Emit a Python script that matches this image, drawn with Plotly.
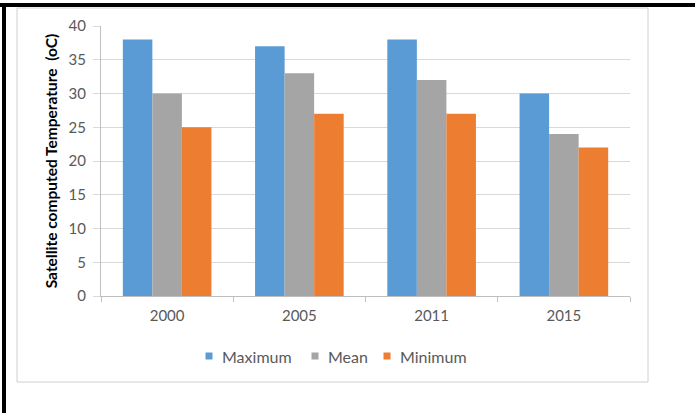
import plotly.graph_objects as go

years = ["2000", "2005", "2011", "2015"]
maximum = [38, 37, 38, 30]
mean = [30, 33, 32, 24]
minimum = [25, 27, 27, 22]
series_names = ["Maximum", "Mean", "Minimum"]
colors = ["#5B9BD5", "#A5A5A5", "#ED7D31"]
y_ticks = [0, 5, 10, 15, 20, 25, 30, 35, 40]

W, H = 695, 413
L, R, T, B = 101, 65, 26, 117
pw, ph = W - L - R, H - T - B

def px_x(p):
    return (p - L) / pw

def px_y(p):
    return (H - B - p) / ph

fig = go.Figure()
for name, vals, col in zip(series_names, [maximum, mean, minimum], colors):
    fig.add_trace(go.Bar(x=years, y=vals, name=name, marker=dict(color=col, line=dict(width=0)),
                         showlegend=False))

font = "Lato, 'Open Sans', sans-serif"
fig.update_layout(
    width=W, height=H,
    margin=dict(l=L, r=R, t=T, b=B, autoexpand=False),
    paper_bgcolor="white", plot_bgcolor="white",
    barmode="group", bargap=0.33, bargroupgap=0,
    font=dict(family=font, color="#595959", size=15),
    showlegend=False,
    xaxis=dict(showline=True, linecolor="#BFBFBF", linewidth=1, ticks="outside", tickson="boundaries",
               ticklen=5, tickcolor="#BFBFBF", showgrid=False, ticklabelstandoff=6,
               tickfont=dict(size=15, color="#595959")),
    yaxis=dict(range=[0, 40], tickvals=y_ticks, showline=True, linecolor="#BFBFBF", linewidth=1,
               ticks="outside", ticklen=7, tickcolor="#D9D9D9", gridcolor="#D9D9D9", gridwidth=1,
               zeroline=False, ticklabelstandoff=4, tickfont=dict(size=15, color="#595959"),
               title=dict(text="<b>Satellite computed Temperature  (oC)</b>", standoff=7,
                          font=dict(size=15.5, color="#000000", family=font))),
)

# legend drawn as swatches + labels (Excel-style compact legend)
legend_marker_x = [209, 315, 387]
legend_y = 356
for name, col, mx in zip(series_names, colors, legend_marker_x):
    fig.add_shape(type="rect", xref="paper", yref="paper",
                  x0=px_x(mx - 3.5), x1=px_x(mx + 3.5), y0=px_y(legend_y - 3.5), y1=px_y(legend_y + 3.5),
                  fillcolor=col, line=dict(width=0))
    fig.add_annotation(xref="paper", yref="paper", x=px_x(mx + 11), y=px_y(legend_y), text=name,
                       showarrow=False, xanchor="left", yanchor="middle",
                       font=dict(size=16, color="#595959", family=font))

# outer frame (black top and left rules) and inner light chart border
fig.add_shape(type="rect", xref="paper", yref="paper", x0=px_x(0), x1=px_x(W), y0=px_y(3), y1=px_y(7),
              fillcolor="black", line=dict(width=0), layer="above")
fig.add_shape(type="rect", xref="paper", yref="paper", x0=px_x(2), x1=px_x(6), y0=px_y(3), y1=px_y(H),
              fillcolor="black", line=dict(width=0), layer="above")
fig.add_shape(type="rect", xref="paper", yref="paper", x0=px_x(17), x1=px_x(648), y0=px_y(8), y1=px_y(382),
              line=dict(color="#D0D0D0", width=1), layer="below")

fig.write_html("out.html")
